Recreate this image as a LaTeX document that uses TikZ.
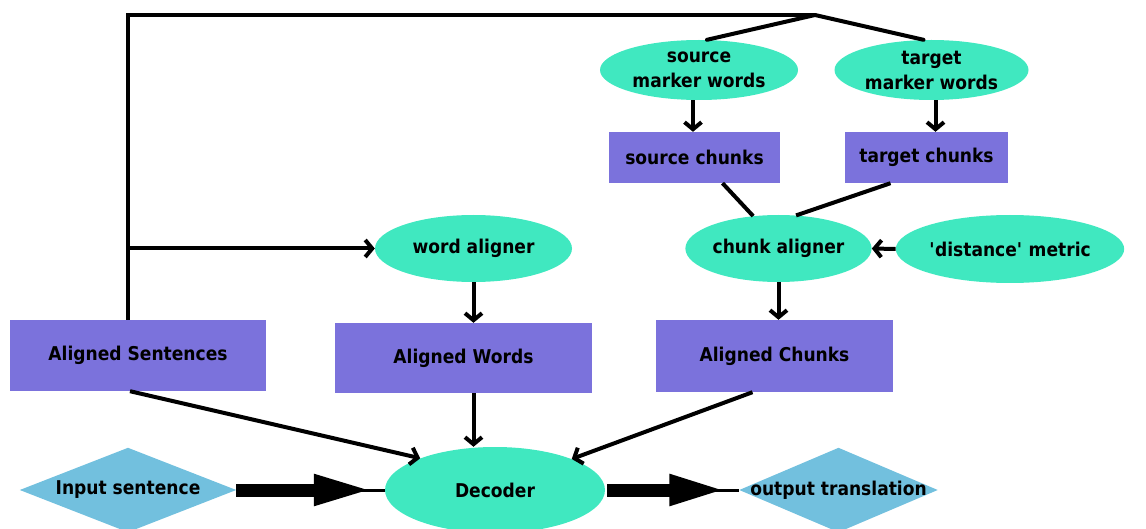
\documentclass[tikz,border=0pt]{standalone}
\usepackage{fontspec}
\setmainfont{DejaVu Sans Bold}[FakeStretch=0.9]
\usetikzlibrary{shapes.geometric,arrows.meta}
\definecolor{ellc}{HTML}{40E8C0}
\definecolor{boxc}{HTML}{7B72DC}
\definecolor{diac}{HTML}{72C0DE}
\begin{document}
\begin{tikzpicture}[x=1pt,y=-1pt,
  every node/.style={font=\fontsize{19}{25}\selectfont, text=black, inner sep=0pt, align=center},
  ell/.style={ellipse, fill=ellc},
  bx/.style={rectangle, fill=boxc},
  diaframe/.style={rectangle},
  ln/.style={line width=4pt},
  arr/.style={line width=4pt, -{Straight Barb[length=7pt,width=17pt]}},
  fat/.style={line width=13pt},
  tip/.style={line width=3pt}]
\useasboundingbox (0,0) rectangle (1146,529);
% nodes
\node[bx, minimum width=256pt, minimum height=71pt] (as) at (138,355.5) {\raisebox{-3pt}{Aligned Sentences}};
\node[bx, minimum width=257pt, minimum height=70pt] (aw) at (463.5,358) {Aligned Words};
\node[bx, minimum width=237pt, minimum height=72pt] (ac) at (774.5,356) {Aligned Chunks};
\node[ell, minimum width=197pt, minimum height=67pt] (wa) at (473.5,248.5) {word aligner};
\node[ell, minimum width=183pt, minimum height=67pt] (ca) at (778.5,248.5) {chunk aligner};
\node[ell, minimum width=180pt, minimum height=68pt] (dm) at (1010,249) {\textquotesingle distance\textquotesingle{} metric};
\node[ell, minimum width=198pt, minimum height=60pt] (sm) at (699,70) {source\\marker words};
\node[ell, minimum width=194pt, minimum height=60pt] (tm) at (931.5,70) {target\\marker words};
\node[bx, minimum width=171pt, minimum height=51pt] (sc) at (694.5,157.5) {source chunks};
\node[bx, minimum width=163pt, minimum height=51pt] (tc) at (926.5,157.5) {target chunks};
\node[ell, minimum width=220pt, minimum height=86pt] (dec) at (495,490) {Decoder};
\node[diaframe, minimum width=216pt, minimum height=84pt] (in) at (128,490) {};
\node[diaframe, minimum width=198pt, minimum height=84pt] (out) at (838.5,490) {};
\fill[diac] (in.west) -- (in.north) -- (in.east) -- (in.south) -- cycle;
\fill[diac] (out.west) -- (out.north) -- (out.east) -- (out.south) -- cycle;
\node (intext) at (in.center) {Input sentence};
\node (outtext) at (out.center) {output translation};
% coordinates
\coordinate (j) at (815,15);
\coordinate (br) at (128,248.5);
\coordinate (awb) at ([xshift=10pt]aw.south);
\coordinate (smb) at ([xshift=-6pt]sm.south);
\coordinate (tmb) at ([xshift=4pt]tm.south);
% connectors
\draw[ln] ([xshift=-10pt]as.north) |- (j);
\draw[ln, line cap=round] (j) -- ([xshift=8pt]sm.north);
\draw[ln, line cap=round] (j) -- ([xshift=-8pt]tm.north);
\draw[arr] (br) -- (wa.west);
\draw[arr] (wa.south) -- (wa.south |- aw.north);
\draw[arr] (smb) -- (smb |- sc.north);
\draw[arr] (tmb) -- (tmb |- tc.north);
\draw[ln] ([xshift=28pt]sc.south) -- (ca.128);
\draw[ln] ([xshift=-36pt]tc.south) -- (ca.62);
\draw[arr] (dm.west) -- (ca.east);
\draw[arr] (ca.south) -- (ca.south |- ac.north);
\draw[arr] ([xshift=-8pt]as.south) -- (dec.157);
\draw[arr] (awb) -- (awb |- dec.north);
\draw[arr] ([xshift=-22pt]ac.south) -- (dec.22);
\draw[fat, -{Triangle[length=60pt,width=28pt]}] (in.east) -- ([xshift=-11pt]dec.west);
\draw[tip] ([xshift=-30pt]dec.west) -- (dec.west);
\draw[fat, -{Triangle[length=58pt,width=28pt]}] ([xshift=2pt]dec.east) -- ([xshift=-12pt]out.west);
\draw[tip] ([xshift=-30pt]out.west) -- (out.west);
\end{tikzpicture}
\end{document}
